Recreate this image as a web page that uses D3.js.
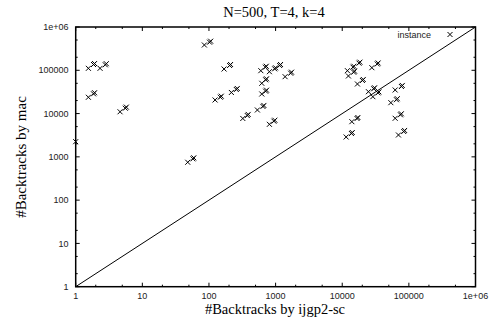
<!DOCTYPE html>
<html><head><meta charset="utf-8">
<script src="https://cdn.jsdelivr.net/npm/d3@7"></script>
<style>body{margin:0;background:#fff}svg{display:block}</style>
</head><body>
<svg id="c" width="489" height="320"></svg>
<script>
const title = "N=500, T=4, k=4";
const xTitle = "#Backtracks by ijgp2-sc";
const yTitle = "#Backtracks by mac";
const legendLabel = "instance";
const majorTicks = [1, 10, 100, 1000, 10000, 100000, 1000000];
const tickLabels = ["1", "10", "100", "1000", "10000", "100000", "1e+06"];
// backtracks by ijgp2-sc (x) and by mac (y), one entry per instance
const ijgp = [
  1.55, 1.85, 1.92, 2.32, 2.78, 2.88, 1.55, 1.85, 1.92, 4.63, 5.55, 5.75, 1,
  85.3, 102, 106, 168.5, 204, 211, 123.5, 148, 153, 217, 257, 266, 322, 376, 388, 48, 57.5, 59.2,
  600, 702, 724, 807, 968, 1000, 1150, 1186, 1389, 1683, 1735, 620, 709, 731, 620, 709, 731, 533, 645, 667, 807, 944, 974,
  11970, 12390, 14500, 14960, 14860, 15320, 17850, 18410, 27830, 33500, 34530, 16920, 20080, 20700,
  24740, 29670, 30590, 28810, 34420, 35490, 62280, 77300, 79700, 53650, 65030, 67050,
  62280, 74700, 77000, 69800, 83700, 86300, 13940, 16660, 17180, 11440, 13730, 14150
];
const mac = [
  111000, 136000, 143000, 111000, 134000, 142000, 23800, 28600, 30300, 11000, 13300, 14100, 2240,
  384000, 446000, 470000, 107000, 129000, 136000, 20600, 23900, 25200, 30700, 36000, 38000, 7700, 9000, 9550, 750, 900, 950,
  97900, 118000, 124000, 92800, 108000, 114000, 129000, 136000, 71150, 85600, 90400, 50070, 60300, 63600, 28340, 32900, 34700, 12090, 14600, 15400, 5650, 6670, 7030,
  97900, 73850, 118000, 124000, 90300, 95300, 146000, 154000, 114800, 139800, 147400, 48240, 58100, 61300,
  32020, 37400, 39400, 24550, 30100, 31700, 35050, 42200, 44600, 17840, 20900, 22100,
  7780, 9370, 9880, 3200, 3850, 4070, 6494, 7690, 8110, 2877, 3460, 3650
];

const svg = d3.select("#c");
const L = 75.7, R = 475.5, T = 27, B = 286.7;
const x = d3.scaleLog().domain([1, 1e6]).range([L, R]);
const y = d3.scaleLog().domain([1, 1e6]).range([B, T]);

const minor = [];
majorTicks.slice(0, -1).forEach(m => { minor.push(m * 2, m * 5); });

const g = svg.append("g");
function drawTicks(vals, len) {
  vals.forEach(v => {
    g.append("line").attr("x1", x(v)).attr("x2", x(v)).attr("y1", B).attr("y2", B - len).attr("stroke", "#000");
    g.append("line").attr("x1", x(v)).attr("x2", x(v)).attr("y1", T).attr("y2", T + len).attr("stroke", "#000");
    g.append("line").attr("y1", y(v)).attr("y2", y(v)).attr("x1", L).attr("x2", L + len).attr("stroke", "#000");
    g.append("line").attr("y1", y(v)).attr("y2", y(v)).attr("x1", R).attr("x2", R - len).attr("stroke", "#000");
  });
}
drawTicks(majorTicks, 4);
drawTicks(minor, 2);

majorTicks.forEach((v, i) => {
  g.append("text").attr("x", x(v)).attr("y", 299).attr("text-anchor", "middle")
    .attr("font-family", "Liberation Sans, Arial, sans-serif").attr("font-size", 9).attr("fill", "#222")
    .text(tickLabels[i]);
  g.append("text").attr("x", 68.5).attr("y", y(v) + 3.2).attr("text-anchor", "end")
    .attr("font-family", "Liberation Sans, Arial, sans-serif").attr("font-size", 9).attr("fill", "#222")
    .text(tickLabels[i]);
});

g.append("line").attr("x1", x(1)).attr("y1", y(1)).attr("x2", x(1e6)).attr("y2", y(1e6))
  .attr("stroke", "#000").attr("stroke-width", 1);

const s = 2.5;
function cross(px, py) {
  g.append("path").attr("d", `M${px - s},${py - s}L${px + s},${py + s}M${px - s},${py + s}L${px + s},${py - s}`)
    .attr("stroke", "#000").attr("stroke-width", 1).attr("fill", "none");
}
ijgp.forEach((v, i) => cross(x(v), y(mac[i])));

g.append("rect").attr("x", L).attr("y", T).attr("width", R - L).attr("height", B - T)
  .attr("fill", "none").attr("stroke", "#000").attr("stroke-width", 1.5);

g.append("text").attr("x", 431).attr("y", 37.5).attr("text-anchor", "end")
  .attr("font-family", "Liberation Sans, Arial, sans-serif").attr("font-size", 9).attr("fill", "#222")
  .text(legendLabel);
cross(450, 34.5);

svg.append("text").attr("x", 274).attr("y", 17).attr("text-anchor", "middle")
  .attr("font-family", "Liberation Serif, Times New Roman, serif").attr("font-size", 14.5).text(title);
svg.append("text").attr("x", 275).attr("y", 314).attr("text-anchor", "middle")
  .attr("font-family", "Liberation Serif, Times New Roman, serif").attr("font-size", 14.5).text(xTitle);
svg.append("text").attr("transform", `translate(26,157) rotate(-90)`).attr("text-anchor", "middle")
  .attr("font-family", "Liberation Serif, Times New Roman, serif").attr("font-size", 15).text(yTitle);
</script>
</body></html>
